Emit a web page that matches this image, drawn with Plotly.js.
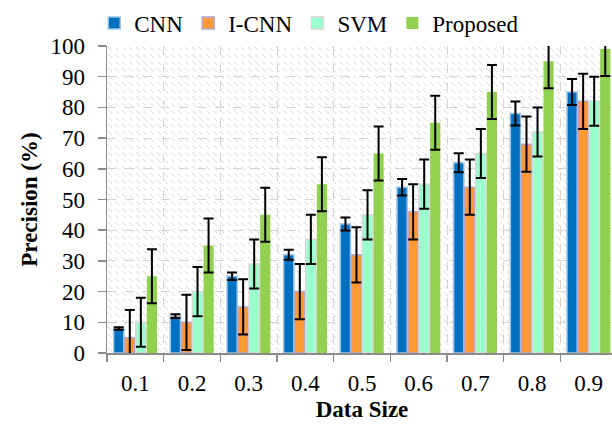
<!DOCTYPE html>
<html>
<head>
<meta charset="utf-8">
<script src="https://cdn.plot.ly/plotly-3.0.1.min.js"></script>
<style>
  html, body { margin: 0; padding: 0; background: #fff; overflow: hidden; width: 612px; height: 429px; }
  #wrap { position: relative; width: 612px; height: 429px; overflow: hidden; }
  #hatch { position: absolute; left: 107px; top: 46px; width: 510px; height: 307px;
    background-image: url("data:image/svg+xml,%3Csvg xmlns='http://www.w3.org/2000/svg' width='7' height='7'%3E%3Cline x1='1' y1='1' x2='5' y2='5' stroke='%23dadada' stroke-width='1'/%3E%3C/svg%3E");
    background-repeat: repeat; }
  #chart { position: absolute; left: 0; top: 0; width: 640px; height: 429px; }
</style>
</head>
<body>
<div id="wrap">
  <div id="hatch"></div>
  <div id="chart"></div>
</div>
<script>
const categories = ["0.1", "0.2", "0.3", "0.4", "0.5", "0.6", "0.7", "0.8", "0.9"];
const cnn      = [8, 12, 25, 32, 42, 54, 62, 78, 85];
const icnn     = [5, 10, 15, 20, 32, 46, 54, 68, 82];
const svm      = [10, 20, 29, 37, 45, 55, 65, 72, 82];
const proposed = [25, 35, 45, 55, 65, 75, 85, 95, 99];
const cnnErr      = [0.4, 0.6, 1.25, 1.6, 2.1, 2.7, 3.1, 3.9, 4.25];
const icnnErr     = [9, 9, 9, 9, 9, 9, 9, 9, 9];
const svmErr      = [8, 8, 8, 8, 8, 8, 8, 8, 8];
const proposedErr = [8.8, 8.8, 8.8, 8.8, 8.8, 8.8, 8.8, 8.8, 8.8];
const yTicks = [0, 10, 20, 30, 40, 50, 60, 70, 80, 90, 100];

const errStyle = (arr) => ({ type: 'data', array: arr, visible: true, color: '#000000', thickness: 2, width: 5 });

const traces = [
  { name: 'CNN', x: categories, y: cnn, type: 'bar',
    marker: { color: '#0070C0', line: { color: '#9DC3E6', width: 1.5 } }, error_y: errStyle(cnnErr) },
  { name: 'I-CNN', x: categories, y: icnn, type: 'bar',
    marker: { color: '#FF9933', line: { color: '#B4A7D6', width: 1.5 } }, error_y: errStyle(icnnErr) },
  { name: 'SVM', x: categories, y: svm, type: 'bar',
    marker: { color: '#99FFCC', line: { color: '#D9D9D9', width: 1.5 } }, error_y: errStyle(svmErr) },
  { name: 'Proposed', x: categories, y: proposed, type: 'bar',
    marker: { color: '#92D050', line: { color: '#92D050', width: 0 } }, error_y: errStyle(proposedErr) }
];

const font = { family: '"Liberation Serif", "Times New Roman", serif', color: '#000000' };
const fs = 23;

const layout = {
  width: 640, height: 429,
  margin: { l: 107, r: 23, t: 46, b: 76, pad: 0, autoexpand: false },
  paper_bgcolor: 'rgba(0,0,0,0)',
  plot_bgcolor: 'rgba(0,0,0,0)',
  font: Object.assign({ size: fs }, font),
  barmode: 'group',
  bargap: 0.22,
  bargroupgap: 0.08,
  showlegend: true,
  legend: {
    orientation: 'h', x: -0.025, xanchor: 'left', y: 1.075, yanchor: 'middle',
    font: Object.assign({ size: fs }, font),
    bgcolor: 'rgba(0,0,0,0)',
    traceorder: 'normal', tracegroupgap: 0
  },
  xaxis: {
    type: 'category',
    tickson: 'boundaries',
    ticks: 'outside', ticklen: 7, tickcolor: '#8c8c8c', tickwidth: 1.5,
    showline: true, linecolor: '#8c8c8c', linewidth: 1.5,
    showgrid: true, gridcolor: '#d4d4d4', griddash: 'dash', gridwidth: 1,
    tickfont: Object.assign({ size: fs }, font),
    ticklabelstandoff: 9,
    title: { text: '<b>Data Size</b>', font: Object.assign({ size: fs }, font), standoff: 6 },
    fixedrange: true
  },
  yaxis: {
    range: [0, 100],
    tickvals: yTicks,
    ticks: 'outside', ticklen: 8, tickcolor: '#8c8c8c', tickwidth: 1.5,
    showline: true, linecolor: '#8c8c8c', linewidth: 1.5,
    showgrid: true, gridcolor: '#d4d4d4', griddash: 'dash', gridwidth: 1,
    zeroline: false,
    tickfont: Object.assign({ size: fs }, font),
    ticklabelstandoff: 8,
    title: { text: '<b>Precision (%)</b>', font: Object.assign({ size: fs }, font), standoff: 6 },
    fixedrange: true
  }
};

Plotly.newPlot('chart', traces, layout, { displayModeBar: false, staticPlot: true });
</script>
</body>
</html>
